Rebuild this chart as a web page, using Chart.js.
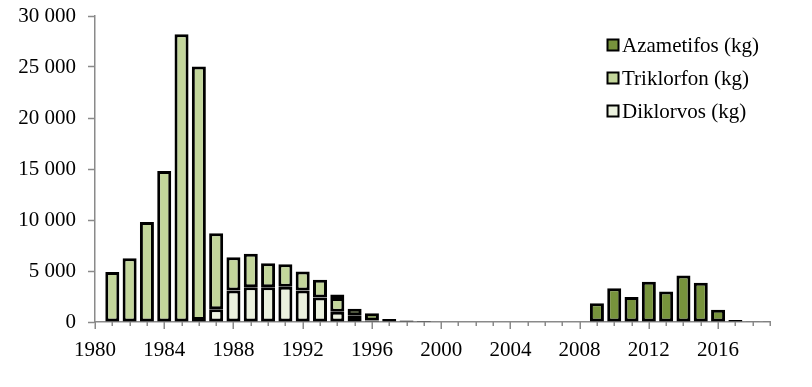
<!DOCTYPE html>
<html>
<head>
<meta charset="utf-8">
<script src="https://cdn.jsdelivr.net/npm/chart.js@4"></script>
<style>
  html, body { margin: 0; padding: 0; background: #fff; }
  canvas { display: block; }
</style>
</head>
<body>
<canvas id="chart" width="812" height="387"></canvas>
<script>
// years on the category axis
const years = [
  1980, 1981, 1982, 1983, 1984, 1985, 1986, 1987, 1988, 1989,
  1990, 1991, 1992, 1993, 1994, 1995, 1996, 1997, 1998, 1999,
  2000, 2001, 2002, 2003, 2004, 2005, 2006, 2007, 2008, 2009,
  2010, 2011, 2012, 2013, 2014, 2015, 2016, 2017, 2018, 2019,
];

// kg per year
const diklorvos = [
  0, 0, 0, 0, 0, 0, 200, 1250, 3100, 3400,
  3400, 3450, 3100, 2400, 1000, 300, 50, 0, 0, 0,
  0, 0, 0, 0, 0, 0, 0, 0, 0, 0,
  0, 0, 0, 0, 0, 0, 0, 0, 0, 0,
];
const triklorfon = [
  0, 4900, 6250, 9800, 14800, 28200, 24850, 7450, 3250, 3300,
  2350, 2200, 1850, 1750, 1350, 350, 100, 50, 0, 0,
  0, 0, 0, 0, 0, 0, 0, 0, 0, 0,
  0, 0, 0, 0, 0, 0, 0, 0, 0, 0,
];
const azametifos = [
  0, 0, 0, 0, 0, 0, 0, 0, 0, 0,
  0, 0, 0, 0, 350, 650, 700, 250, 150, 100,
  0, 0, 0, 0, 0, 0, 0, 0, 50, 1850,
  3300, 2450, 3950, 3000, 4550, 3850, 1200, 200, 80, 80,
];

const yTicks = [0, 5000, 10000, 15000, 20000, 25000, 30000];

const AXIS = "#8a8a8a";
const FONT = "'Liberation Serif', 'Times New Roman', serif";

Chart.defaults.font.family = FONT;
Chart.defaults.font.size = 21;
Chart.defaults.color = "#000";

const fmt = v => String(v).replace(/\B(?=(\d{3})+(?!\d))/g, " ");
const nz = arr => arr.map(v => (v === 0 ? null : v));

// year ticks under the x axis, longer every 4 years
const xTickMarks = {
  id: "xTickMarks",
  afterDraw(chart) {
    const x = chart.scales.x;
    const ctx = chart.ctx;
    const y0 = chart.chartArea.bottom;
    ctx.save();
    ctx.strokeStyle = AXIS;
    ctx.lineWidth = 1.5;
    years.forEach((yr, i) => {
      const px = Math.round(x.getPixelForTick(i)) + 0.25;
      const len = yr % 4 === 0 ? 7 : 4;
      ctx.beginPath();
      ctx.moveTo(px, y0);
      ctx.lineTo(px, y0 + len);
      ctx.stroke();
    });
    ctx.restore();
  },
};

// legend drawn inside the plot, top right, in reversed order
const boxLegend = {
  id: "boxLegend",
  afterDraw(chart) {
    const ctx = chart.ctx;
    const sets = chart.data.datasets.slice().reverse();
    ctx.save();
    ctx.font = "21px " + FONT;
    ctx.textBaseline = "middle";
    ctx.textAlign = "left";
    sets.forEach((ds, i) => {
      const cy = 45 + i * 33;
      ctx.fillStyle = ds.backgroundColor;
      ctx.fillRect(607.5, cy - 5.5, 11, 11);
      ctx.strokeStyle = "#000";
      ctx.lineWidth = 2;
      ctx.strokeRect(607.5, cy - 5.5, 11, 11);
      ctx.fillStyle = "#000";
      ctx.fillText(ds.label, 622, cy + 1);
    });
    ctx.restore();
  },
};

const barStyle = {
  borderColor: "#000",
  borderWidth: 3,
  borderSkipped: false,
  barPercentage: 0.81,
  categoryPercentage: 1,
};

new Chart(document.getElementById("chart"), {
  type: "bar",
  data: {
    labels: years.map(String),
    datasets: [
      { label: "Diklorvos (kg)", data: nz(diklorvos), backgroundColor: "#ebf1de", ...barStyle },
      { label: "Triklorfon (kg)", data: nz(triklorfon), backgroundColor: "#c3d69b", ...barStyle },
      { label: "Azametifos (kg)", data: nz(azametifos), backgroundColor: "#77933c", ...barStyle },
    ],
  },
  options: {
    responsive: false,
    animation: false,
    devicePixelRatio: 1,
    layout: { padding: { top: 16, right: 42, left: 0, bottom: 0 } },
    plugins: {
      legend: { display: false },
      tooltip: { enabled: false },
    },
    scales: {
      x: {
        stacked: true,
        offset: false,
        grid: { display: false },
        border: { display: true, color: AXIS, width: 1.5 },
        ticks: {
          autoSkip: false,
          maxRotation: 0,
          padding: 8,
          color: "#000",
          callback: (v, i) => (years[i] % 4 === 0 ? String(years[i]) : ""),
        },
        afterFit: s => { s.height = 65; s.paddingLeft = 0; s.paddingRight = 0; },
      },
      y: {
        stacked: true,
        min: 0,
        max: 30000,
        afterBuildTicks: s => { s.ticks = yTicks.map(v => ({ value: v })); },
        grid: { drawOnChartArea: false, tickLength: 7, tickColor: AXIS, tickWidth: 1.5 },
        border: { display: true, color: AXIS, width: 1.5 },
        ticks: { padding: 12, color: "#000", callback: v => fmt(v) },
        afterFit: s => { s.width = 95; s.paddingTop = 0; s.paddingBottom = 0; },
      },
    },
  },
  plugins: [xTickMarks, boxLegend],
});
</script>
</body>
</html>
